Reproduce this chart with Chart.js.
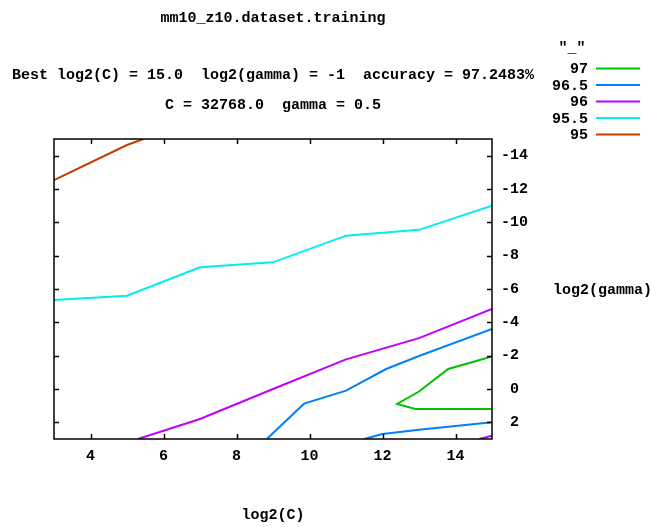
<!DOCTYPE html>
<html>
<head>
<meta charset="utf-8">
<script src="https://cdn.jsdelivr.net/npm/chart.js@4"></script>
<style>
  html, body { margin: 0; padding: 0; background: #fff; }
  canvas { display: block; }
</style>
</head>
<body>
<canvas id="contourChart" width="652" height="527"></canvas>
<script>
// contour levels (accuracy %) and the traced contour lines, x = log2(C), y = log2(gamma)
const levels = ["97", "96.5", "96", "95.5", "95"];
const levelColors = ["#00c000", "#0080ff", "#c000ff", "#00eeee", "#c04000"];

const c97X = [15, 13.8, 13, 12.4, 12.9, 15];
const c97Y = [-1.95, -1.2, 0.15, 0.9, 1.2, 1.2];

const c965aX = [8.83, 9.85, 11, 12.1, 13, 15];
const c965aY = [3, 0.88, 0.1, -1.2, -1.98, -3.6];
const c965bX = [11.5, 12, 13, 15];
const c965bY = [3, 2.7, 2.45, 2.0];

const c96aX = [5.3, 7, 9, 11, 13, 15];
const c96aY = [3, 1.8, 0.0, -1.78, -3.05, -4.8];
const c96bX = [14.65, 15];
const c96bY = [3, 2.8];

const c955X = [3, 5, 7, 9, 11, 13, 15];
const c955Y = [-5.34, -5.6, -7.3, -7.6, -9.2, -9.55, -11.0];

const c95X = [3, 5, 5.45];
const c95Y = [-12.54, -14.64, -15];

const xTicks = [4, 6, 8, 10, 12, 14];
const yTicks = [-14, -12, -10, -8, -6, -4, -2, 0, 2];

const titleLines = [
  "mm10_z10.dataset.training",
  "Best log2(C) = 15.0  log2(gamma) = -1  accuracy = 97.2483%",
  "C = 32768.0  gamma = 0.5"
];

const FONT = "bold 15px 'Liberation Mono', 'DejaVu Sans Mono', monospace";

const pts = (xs, ys) => xs.map((x, i) => ({ x: x, y: ys[i] }));

function line(label, levelIdx, xs, ys) {
  return {
    label: label,
    data: pts(xs, ys),
    showLine: true,
    pointRadius: 0,
    borderWidth: 2,
    borderColor: levelColors[levelIdx],
    backgroundColor: levelColors[levelIdx],
    tension: 0,
    fill: false,
    clip: 0
  };
}

// border, inward ticks, titles and the gnuplot style key
const gnuplotFrame = {
  id: "gnuplotFrame",
  afterDraw(chart) {
    const { ctx, chartArea: a, scales } = chart;
    ctx.save();
    ctx.strokeStyle = "#000";
    ctx.lineWidth = 1.5;
    ctx.strokeRect(a.left, a.top, a.right - a.left, a.bottom - a.top);

    ctx.beginPath();
    xTicks.forEach(v => {
      const px = Math.round(scales.x.getPixelForValue(v)) + 0.5;
      ctx.moveTo(px, a.bottom); ctx.lineTo(px, a.bottom - 5);
      ctx.moveTo(px, a.top); ctx.lineTo(px, a.top + 5);
    });
    yTicks.forEach(v => {
      const py = Math.round(scales.y.getPixelForValue(v)) + 0.5;
      ctx.moveTo(a.left, py); ctx.lineTo(a.left + 5, py);
      ctx.moveTo(a.right, py); ctx.lineTo(a.right - 5, py);
    });
    ctx.stroke();

    ctx.fillStyle = "#000";
    ctx.font = FONT;
    ctx.textBaseline = "middle";
    ctx.textAlign = "center";
    const cx = (a.left + a.right) / 2;
    ctx.fillText(titleLines[0], cx, 18);
    ctx.fillText(titleLines[1], cx, 75);
    ctx.fillText(titleLines[2], cx, 105);
    ctx.fillText("log2(C)", cx, 515);

    ctx.textAlign = "left";
    ctx.fillText("log2(gamma)", 553, 290);

    // key
    ctx.textAlign = "center";
    ctx.fillText('"_"', 572, 48);
    const shown = chart.data.datasets.filter(d => d.label);
    shown.forEach((d, i) => {
      const y = 68.5 + i * 16.5;
      ctx.textAlign = "right";
      ctx.fillStyle = "#000";
      ctx.fillText(d.label, 588, y + 1);
      ctx.strokeStyle = d.borderColor;
      ctx.lineWidth = 2;
      ctx.beginPath();
      ctx.moveTo(596, y);
      ctx.lineTo(640, y);
      ctx.stroke();
    });
    ctx.restore();
  }
};

new Chart(document.getElementById("contourChart"), {
  type: "scatter",
  data: {
    datasets: [
      line(levels[0], 0, c97X, c97Y),
      line(levels[1], 1, c965aX, c965aY),
      line("", 1, c965bX, c965bY),
      line(levels[2], 2, c96aX, c96aY),
      line("", 2, c96bX, c96bY),
      line(levels[3], 3, c955X, c955Y),
      line(levels[4], 4, c95X, c95Y)
    ]
  },
  options: {
    responsive: false,
    animation: false,
    devicePixelRatio: 1,
    layout: { padding: { left: 54, top: 139, right: 0, bottom: 0 } },
    plugins: {
      legend: { display: false },
      title: { display: false },
      tooltip: { enabled: false }
    },
    scales: {
      x: {
        type: "linear",
        position: "bottom",
        min: 3,
        max: 15,
        afterBuildTicks: (s) => { s.ticks = xTicks.map(v => ({ value: v })); },
        afterFit: (s) => { s.height = 88; },
        grid: { display: false, drawTicks: false },
        border: { display: false },
        ticks: {
          color: "#000",
          padding: 8,
          maxRotation: 0,
          font: { family: "'Liberation Mono', 'DejaVu Sans Mono', monospace", size: 15, weight: "bold" }
        }
      },
      y: {
        type: "linear",
        position: "right",
        reverse: true,
        min: -15,
        max: 3,
        afterBuildTicks: (s) => { s.ticks = yTicks.map(v => ({ value: v })); },
        afterFit: (s) => { s.width = 160; },
        grid: { display: false, drawTicks: false },
        border: { display: false },
        ticks: {
          color: "#000",
          padding: 9,
          callback: (v) => (v < 0 ? String(v) : " " + v),
          font: { family: "'Liberation Mono', 'DejaVu Sans Mono', monospace", size: 15, weight: "bold" }
        }
      }
    }
  },
  plugins: [gnuplotFrame]
});
</script>
</body>
</html>
